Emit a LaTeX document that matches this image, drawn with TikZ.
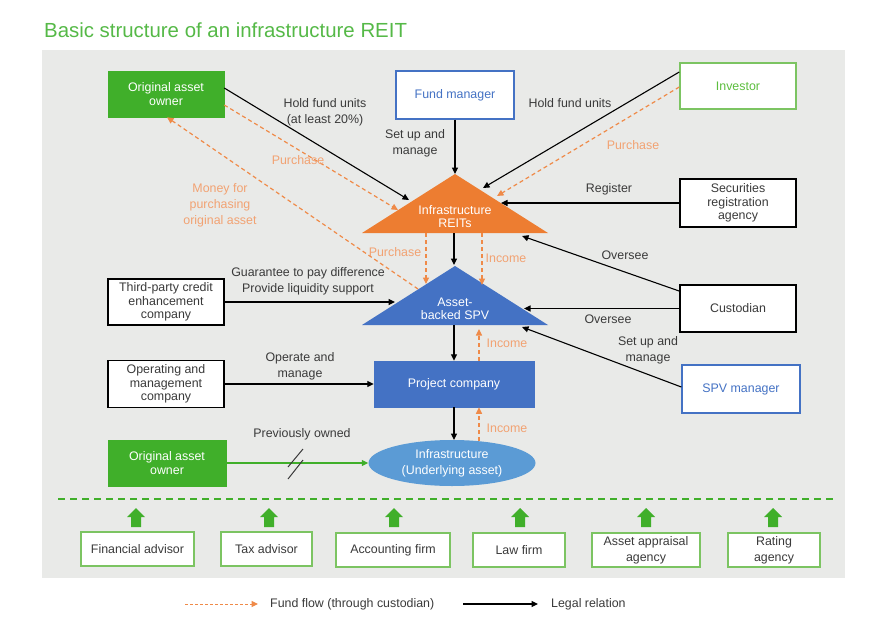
\documentclass[tikz,border=0pt]{standalone}
\usepackage{fontspec}
\setmainfont{Liberation Sans}
\usetikzlibrary{arrows.meta,shapes.geometric}
\definecolor{bg}{HTML}{E9EAE8}
\definecolor{grn}{HTML}{40AF2A}
\definecolor{ttl}{HTML}{55B947}
\definecolor{lgrn}{HTML}{7CC462}
\definecolor{invg}{HTML}{5CBE3E}
\definecolor{blu}{HTML}{4472C4}
\definecolor{lblu}{HTML}{5B9BD5}
\definecolor{org}{HTML}{ED7D31}
\definecolor{orgl}{HTML}{F2A272}
\definecolor{orgd}{HTML}{EF8A48}
\definecolor{txt}{HTML}{3A3A3A}
\newcommand\fsbox{\fontsize{12.4}{13.3}\selectfont}
\newcommand\fslab{\fontsize{12.4}{15.8}\selectfont}
\tikzset{
  x=1pt, y=-1pt,
  base/.style={text=txt, align=center, inner sep=0pt},
  bbox/.style={base, font=\fsbox, draw=black, line width=1.8pt, fill=white, minimum width=116pt, minimum height=47pt},
  bluebox/.style={bbox, draw=blu, line width=1.4pt, text=blu, minimum width=118pt, minimum height=48pt},
  greenfill/.style={bbox, draw=grn, fill=grn, line width=0.5pt, text=white},
  advbox/.style={base, font=\fslab, draw=lgrn, line width=2pt, fill=white, minimum height=34pt},
  lab/.style={base, font=\fslab},
  olab/.style={lab, text=orgl},
  legal/.style={draw=black, line width=1.1pt, -{Triangle[length=6.5pt,width=6pt]}},
  fund/.style={draw=orgd, line width=1.2pt, dash pattern=on 4pt off 3pt, -{Triangle[length=6.5pt,width=6pt]}},
  uparrow/.style={fill=grn},
}
\begin{document}
\begin{tikzpicture}
\useasboundingbox (0,0) rectangle (883,637);
\fill[white] (0,0) rectangle (883,637);
\fill[bg] (42,50) rectangle (845,578);
\node[anchor=base west, text=ttl, font=\fontsize{20.4}{24}\selectfont, inner sep=0pt] (title) at (44,37.5) {Basic structure of an infrastructure REIT};

% triangles
\fill[org] (455,174) -- (548,233) -- (362,233) -- cycle;
\node[base, font=\fsbox, text=white] (reit) at (455,216.5) {Infrastructure\\REITs};
\fill[blu] (455,266) -- (548,325) -- (362,325) -- cycle;
\node[base, font=\fsbox, text=white] (spv) at (455,309) {Asset-\\backed SPV};

% coordinates on triangles
\coordinate (reitTop) at (455,174);
\coordinate (reitA) at (409,200);
\coordinate (reitB) at (398,210);
\coordinate (reitC) at (483,188);
\coordinate (reitD) at (497,196);
\coordinate (reitE) at (501,203);
\coordinate (reitF) at (522,236);
\coordinate (reitBot) at (454,233);
\coordinate (reitP) at (426,233);
\coordinate (reitI) at (482,233);
\coordinate (spvTop) at (454,265);
\coordinate (spvP) at (426,284);
\coordinate (spvI) at (482,285);
\coordinate (spvA) at (418,289);
\coordinate (spvB) at (524,308.5);
\coordinate (spvC) at (522,327);
\coordinate (spvD) at (479,329);
\coordinate (spvE) at (395,302);
\coordinate (spvBot) at (454,325);

% boxes
\node[greenfill, minimum width=116pt, minimum height=46pt] (owner1) at (166,94) {Original asset\\owner};
\node[bluebox] (fm) at (455,95) {Fund manager};
\node[bbox, draw=lgrn, line width=1.5pt, text=invg, minimum height=46pt] (inv) at (738,86) {Investor};
\node[bbox, minimum height=48pt] (sra) at (738,203) {Securities\\registration\\agency};
\node[bbox, minimum height=46pt] (tpc) at (166,302) {Third-party credit\\enhancement\\company};
\node[bbox] (cust) at (738,308.5) {Custodian};
\node[bluebox] (spvm) at (741,389) {SPV manager};
\node[bbox, draw=blu, fill=blu, line width=0.5pt, text=white, minimum width=160pt, minimum height=46pt] (proj) at (454,384) {Project company};
\node[bbox] (omc) at (166,384) {Operating and\\management\\company};
\node[ellipse, base, font=\fslab, fill=lblu, text=white, minimum width=167pt, minimum height=46pt] (infra) at (452,463) {Infrastructure\\(Underlying asset)};
\node[greenfill, minimum width=118pt, minimum height=46pt] (owner2) at (167,463) {Original asset\\owner};

% connectors
\draw[legal] ([yshift=6pt]owner1.east) -- (reitA);
\draw[fund] ([yshift=-11pt]owner1.east) -- (reitB);
\draw[fund] (spvA) -- ([xshift=1pt]owner1.south);
\draw[legal] (fm.south) -- (reitTop);
\draw[legal] ([yshift=14pt]inv.west) -- (reitC);
\draw[fund] ([yshift=-1pt]inv.west) -- (reitD);
\draw[legal] (sra.west) -- (reitE);
\draw[legal] ([yshift=17.5pt]cust.west) -- (reitF);
\draw[legal] (cust.west) -- (spvB);
\draw[legal] ([yshift=2pt]spvm.west) -- (spvC);
\draw[legal] (reitBot) -- (spvTop);
\draw[fund] (reitP) -- (spvP);
\draw[fund] (reitI) -- (spvI);
\draw[legal] (spvBot) -- (proj.north);
\draw[fund] ([xshift=25pt]proj.north) -- (spvD);
\draw[legal] (tpc.east) -- (spvE);
\draw[legal] (omc.east) -- (proj.west);
\coordinate (infraTop) at (454,440);
\coordinate (infraI) at (479,441);
\draw[legal] (proj.south) -- (infraTop);
\draw[fund] (infraI) -- ([xshift=25pt]proj.south);
\draw[grn, line width=1.1pt, -{Triangle[length=6.5pt,width=6pt]}] (owner2.east) -- (infra.west);
\coordinate (sl1a) at (288,467); \coordinate (sl1b) at (303,449);
\coordinate (sl2a) at (288,479); \coordinate (sl2b) at (303,460);
\draw[txt, line width=1pt] (sl1a) -- (sl1b) (sl2a) -- (sl2b);

% labels
\node[lab] (l1) at (325,112) {Hold fund units\\(at least 20\%)};
\node[olab] (l2) at (298,160) {Purchase};
\node[olab] (l3) at (220,205) {Money for\\purchasing\\original asset};
\node[lab] (l4) at (415,143) {Set up and\\manage};
\node[lab] (l5) at (570,103) {Hold fund units};
\node[olab] (l6) at (633,145) {Purchase};
\node[lab] (l7) at (609,189) {Register};
\node[lab] (l8) at (625,255) {Oversee};
\node[lab] (l9) at (608,319) {Oversee};
\node[lab] (l10) at (648,350) {Set up and\\manage};
\node[olab] (l11) at (395,252) {Purchase};
\node[olab] (l12) at (506,258) {Income};
\node[olab] (l13) at (507,343) {Income};
\node[olab] (l14) at (507,428) {Income};
\node[lab] (l15) at (308,281) {Guarantee to pay difference\\Provide liquidity support};
\node[lab] (l16) at (300,366) {Operate and\\manage};
\node[lab] (l17) at (302,434) {Previously owned};

% separator
\coordinate (sepL) at (58,499);
\coordinate (sepR) at (833,499);
\draw[grn, line width=2pt, dash pattern=on 7pt off 5pt] (sepL) -- (sepR);

% advisors
\node[advbox, minimum width=113pt] (a1) at (137.5,549) {Financial advisor};
\node[advbox, minimum width=91pt] (a2) at (266.5,549) {Tax advisor};
\node[advbox, minimum width=114pt] (a3) at (393,550) {Accounting firm};
\node[advbox, minimum width=92pt] (a4) at (519,550) {Law firm};
\node[advbox, minimum width=108pt] (a5) at (646,550) {Asset appraisal\\agency};
\node[advbox, minimum width=92pt] (a6) at (774,550) {Rating\\agency};
\foreach \cx in {136,269,394,520,646,773}{
  \fill[uparrow] (\cx-5,527) -- (\cx-5,517) -- (\cx-9,517) -- (\cx,508) -- (\cx+9,517) -- (\cx+5,517) -- (\cx+5,527) -- cycle;
}

% legend
\coordinate (lg1a) at (185,604); \coordinate (lg1b) at (258,604);
\coordinate (lg2a) at (463,604); \coordinate (lg2b) at (538,604);
\draw[fund, line width=1pt, dash pattern=on 3pt off 2pt] (lg1a) -- (lg1b);
\node[lab, anchor=west] (lgt1) at (270,604) {Fund flow (through custodian)};
\draw[legal] (lg2a) -- (lg2b);
\node[lab, anchor=west] (lgt2) at (551,604) {Legal relation};
\end{tikzpicture}
\end{document}
